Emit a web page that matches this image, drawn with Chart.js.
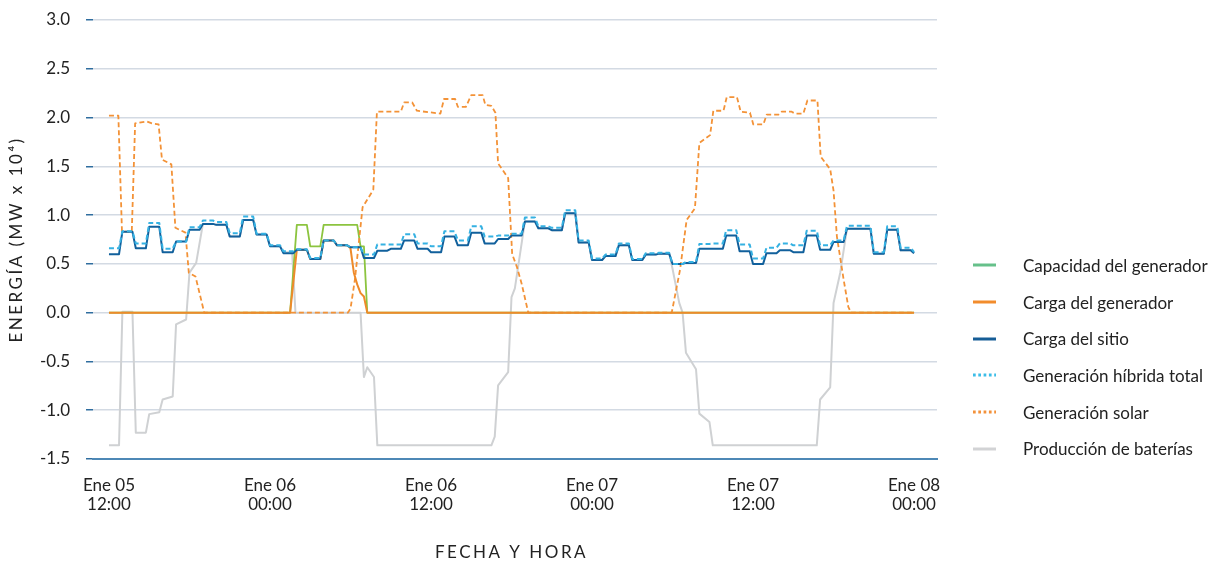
<!DOCTYPE html>
<html lang="es">
<head>
<meta charset="utf-8">
<title>Energía por fecha y hora</title>
<script src="https://cdn.jsdelivr.net/npm/chart.js@4.4.1/dist/chart.umd.min.js"></script>
<style>
  html, body { margin: 0; padding: 0; background: #fff; }
  #wrap { position: relative; width: 1214px; height: 568px; }
  #grafico { position: absolute; left: 0; top: 0; }
  #leyenda {
    position: absolute; left: 973px; top: 247px;
    list-style: none; margin: 0; padding: 0;
    font-family: Lato, "Noto Sans", sans-serif; font-size: 17px; color: #222;
  }
  #leyenda li { height: 36.7px; display: flex; align-items: center; white-space: nowrap; }
  #leyenda svg { flex: none; margin-right: 27px; }
</style>
</head>
<body>
<div id="wrap">
  <canvas id="grafico" width="1214" height="568"></canvas>
  <ul id="leyenda"></ul>
</div>
<script>
// eje X en horas desde Ene 05 12:00
const horasX = [0, 12, 24, 36, 48, 60];
const etiquetasX = [
  ["Ene 05", "12:00"], ["Ene 06", "00:00"], ["Ene 06", "12:00"],
  ["Ene 07", "00:00"], ["Ene 07", "12:00"], ["Ene 08", "00:00"]
];
const tituloX = "FECHA Y HORA";
const tituloY = "ENERGÍA (MW x 10\u2074)";

// valores horarios (h = 0 ... 60)
const cargaSitio = [
  0.60, 0.83, 0.66, 0.88, 0.62, 0.73, 0.85, 0.91, 0.90, 0.78,
  0.95, 0.80, 0.68, 0.61, 0.645, 0.55, 0.74, 0.69, 0.67, 0.56,
  0.635, 0.655, 0.74, 0.655, 0.62, 0.78, 0.69, 0.82, 0.71, 0.755,
  0.79, 0.935, 0.865, 0.845, 1.02, 0.72, 0.54, 0.58, 0.69, 0.54,
  0.595, 0.605, 0.50, 0.51, 0.655, 0.655, 0.79, 0.63, 0.50, 0.61,
  0.64, 0.62, 0.79, 0.645, 0.725, 0.86, 0.86, 0.605, 0.85, 0.64,
  0.61
];
const generacionHibrida = [
  0.66, 0.835, 0.71, 0.92, 0.655, 0.73, 0.875, 0.945, 0.93, 0.815,
  0.985, 0.81, 0.69, 0.63, 0.65, 0.56, 0.74, 0.69, 0.67, 0.595,
  0.70, 0.70, 0.805, 0.71, 0.68, 0.835, 0.74, 0.885, 0.78, 0.79,
  0.81, 0.975, 0.885, 0.87, 1.05, 0.74, 0.555, 0.595, 0.71, 0.55,
  0.61, 0.615, 0.50, 0.52, 0.705, 0.71, 0.845, 0.70, 0.555, 0.665,
  0.71, 0.69, 0.84, 0.69, 0.74, 0.89, 0.89, 0.62, 0.885, 0.665,
  0.62
];

// series con cambios dentro de la hora: [hora, valor]
const capacidadGenerador = [
  [0, 0], [13.5, 0], [14, 0.90], [14.75, 0.90], [15, 0.68], [15.75, 0.68],
  [16, 0.90], [18.5, 0.90], [18.75, 0.68], [19, 0.68], [19.25, 0], [60, 0]
];
const cargaGenerador = [
  [0, 0], [13.5, 0], [14, 0.645], [14.75, 0.645], [15, 0.55], [15.75, 0.55],
  [16, 0.74], [16.75, 0.74], [17, 0.69], [17.75, 0.69], [18, 0.66],
  [18.25, 0.41], [18.5, 0.29], [18.75, 0.20], [19, 0.165], [19.25, 0], [60, 0]
];
const generacionSolar = [
  [0, 2.02], [0.7, 2.02], [0.97, 0.83], [1.7, 0.83], [1.95, 1.94], [2.8, 1.96],
  [3.2, 1.94], [3.7, 1.93], [3.95, 1.57], [4.65, 1.52], [4.95, 0.87], [5.7, 0.82],
  [5.95, 0.41], [6.45, 0.37], [7.1, 0], [17.8, 0], [18, 0.04], [18.33, 0.34],
  [18.9, 1.08], [19.7, 1.26], [19.97, 2.06], [21.75, 2.06], [22, 2.155],
  [22.6, 2.155], [22.95, 2.07], [24.7, 2.04], [24.97, 2.19], [25.8, 2.19],
  [26, 2.11], [26.6, 2.11], [27, 2.23], [27.85, 2.23], [28.05, 2.13], [28.5, 2.12],
  [28.8, 2.05], [29, 1.53], [29.6, 1.41], [29.75, 1.38], [30.05, 0.60],
  [30.4, 0.47], [30.75, 0.30], [31.25, 0], [41.94, 0], [42.56, 0.44],
  [43.05, 0.95], [43.67, 1.07], [44, 1.74], [44.8, 1.82], [45.04, 2.07],
  [45.8, 2.07], [46.04, 2.21], [46.8, 2.21], [47.08, 2.06], [47.77, 2.05],
  [48.02, 1.93], [48.77, 1.93], [49.02, 2.03], [49.9, 2.03], [50.14, 2.06],
  [50.88, 2.06], [51.13, 2.04], [51.75, 2.04], [52.05, 2.175], [52.8, 2.175],
  [53.04, 1.60], [53.75, 1.47], [54, 1.25], [54.25, 0.78], [54.75, 0.34],
  [55.1, 0.06], [55.3, 0], [60, 0]
];
const produccionBaterias = [
  [0, -1.36], [0.75, -1.36], [1, 0.01], [1.75, 0.01], [2, -1.23], [2.75, -1.23],
  [3, -1.04], [3.75, -1.02], [4, -0.89], [4.75, -0.86], [5, -0.12], [5.75, -0.07],
  [6, 0.41], [6.5, 0.51], [7, 0.91], [7.75, 0.91], [8, 0.90], [8.75, 0.90],
  [9, 0.78], [9.75, 0.78], [10, 0.95], [10.75, 0.95], [11, 0.80], [11.75, 0.80],
  [12, 0.68], [12.75, 0.68], [13, 0.62], [13.65, 0.62], [13.9, 0], [18.75, 0],
  [19, -0.66], [19.25, -0.56], [19.75, -0.66], [20, -1.36], [28.5, -1.36],
  [28.75, -1.27], [29, -0.745], [29.75, -0.61], [30, 0.16], [30.25, 0.25],
  [31, 0.935], [31.75, 0.935], [32, 0.865], [32.75, 0.865], [33, 0.845],
  [33.75, 0.845], [34, 1.02], [34.75, 1.02], [35, 0.72], [35.75, 0.72],
  [36, 0.54], [36.75, 0.54], [37, 0.58], [37.75, 0.58], [38, 0.69], [38.75, 0.69],
  [39, 0.54], [39.75, 0.54], [40, 0.595], [40.75, 0.595], [41, 0.605],
  [41.75, 0.605], [42, 0.45], [42.5, 0.10], [42.75, 0], [43, -0.41],
  [43.75, -0.58], [44, -1.035], [44.75, -1.12], [45, -1.36], [52.75, -1.36],
  [53, -0.89], [53.75, -0.765], [54, 0.10], [54.5, 0.41], [55, 0.86],
  [56.75, 0.86], [57, 0.605], [57.75, 0.605], [58, 0.85], [58.75, 0.85],
  [59, 0.64], [59.75, 0.64], [60, 0.61]
];

// cada valor horario se mantiene 45 min y cambia en el último cuarto
function porHora(valores) {
  const pts = [];
  valores.forEach((v, h) => {
    pts.push({ x: h, y: v });
    if (h < valores.length - 1) pts.push({ x: h + 0.75, y: v });
  });
  return pts;
}
function aPuntos(pares) {
  return pares.map(p => ({ x: p[0], y: p[1] }));
}

const series = [
  { label: "Capacidad del generador", data: aPuntos(capacidadGenerador), color: "#8cc43f", muestra: "#66c08a", ancho: 1.8, guion: [], orden: 5 },
  { label: "Carga del generador", data: aPuntos(cargaGenerador), color: "#ee8a2a", muestra: "#f28c2c", ancho: 2, guion: [], orden: 3 },
  { label: "Carga del sitio", data: porHora(cargaSitio), color: "#11609c", muestra: "#165d96", ancho: 2, guion: [], orden: 2 },
  { label: "Generación híbrida total", data: porHora(generacionHibrida), color: "#35b1e2", muestra: "#3cbde8", ancho: 2, guion: [5, 3], orden: 1 },
  { label: "Generación solar", data: aPuntos(generacionSolar), color: "#f39237", muestra: "#f3913a", ancho: 1.8, guion: [5, 3], orden: 4 },
  { label: "Producción de baterías", data: aPuntos(produccionBaterias), color: "#cfd1d3", muestra: "#d2d3d5", ancho: 2, guion: [], orden: 6 }
];

// títulos de los ejes con espaciado entre letras
const titulosEjes = {
  id: "titulosEjes",
  afterDraw(chart) {
    const { ctx, chartArea, scales } = chart;
    ctx.save();
    ctx.fillStyle = "#222";
    ctx.font = '17px Lato, "Noto Sans", sans-serif';
    ctx.letterSpacing = "2.5px";
    ctx.textAlign = "center";
    ctx.textBaseline = "middle";
    ctx.fillText(tituloX, scales.x.getPixelForValue(30), 553);
    ctx.translate(17, (chartArea.top + chartArea.bottom) / 2);
    ctx.rotate(-Math.PI / 2);
    ctx.fillText(tituloY, 0, 0);
    ctx.restore();
  }
};

const ctx = document.getElementById("grafico").getContext("2d");
new Chart(ctx, {
  type: "line",
  data: {
    datasets: series.map(s => ({
      label: s.label,
      data: s.data,
      borderColor: s.color,
      backgroundColor: s.color,
      borderWidth: s.ancho,
      borderDash: s.guion,
      borderJoinStyle: "round",
      pointRadius: 0,
      tension: 0,
      fill: false,
      order: s.orden
    }))
  },
  options: {
    responsive: false,
    animation: false,
    layout: { padding: { top: 20, right: 277, left: 0, bottom: 0 } },
    plugins: { legend: { display: false }, tooltip: { enabled: false } },
    scales: {
      x: {
        type: "linear",
        min: -1.19,
        max: 61.71,
        afterFit: scale => { scale.height = 109; },
        afterBuildTicks: scale => { scale.ticks = horasX.map(v => ({ value: v })); },
        grid: { display: false, drawTicks: false },
        border: { display: true, color: "#4d88b6", width: 2 },
        ticks: {
          autoSkip: false,
          maxRotation: 0,
          padding: 17,
          color: "#222",
          font: { family: 'Lato, "Noto Sans", sans-serif', size: 17, lineHeight: 1.12 },
          callback: (v, i) => etiquetasX[i]
        }
      },
      y: {
        min: -1.5,
        max: 3.0,
        afterFit: scale => {
          scale.width = 93;
          scale.paddingTop = 10;
          scale.paddingBottom = 10;
        },
        grid: { color: "#d3dae3", lineWidth: 1.5, tickColor: "#2f6d9f", tickLength: 7 },
        border: { display: false },
        ticks: {
          stepSize: 0.5,
          padding: 16,
          color: "#222",
          font: { family: 'Lato, "Noto Sans", sans-serif', size: 17 },
          callback: v => v.toFixed(1)
        }
      }
    }
  },
  plugins: [titulosEjes]
});

// leyenda a la derecha
const leyenda = document.getElementById("leyenda");
series.forEach(s => {
  const li = document.createElement("li");
  const dash = s.guion.length ? ' stroke-dasharray="2.7 2.6"' : "";
  li.innerHTML = '<svg width="23" height="4"><line x1="0" y1="2" x2="23" y2="2" stroke="' +
    s.muestra + '" stroke-width="3"' + dash + '/></svg><span>' + s.label + '</span>';
  leyenda.appendChild(li);
});
</script>
</body>
</html>
